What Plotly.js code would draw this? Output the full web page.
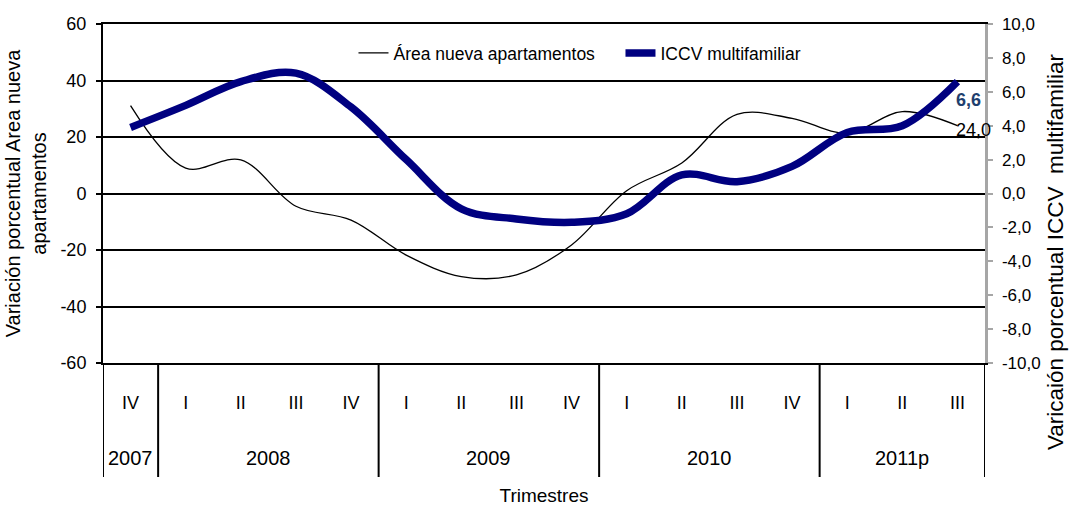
<!DOCTYPE html>
<html>
<head>
<meta charset="utf-8">
<script src="https://cdn.plot.ly/plotly-3.0.1.min.js"></script>
<style>
  html, body { margin: 0; padding: 0; background: #fff; }
  #chart { width: 1069px; height: 509px; }
</style>
</head>
<body>
<div id="chart"></div>
<script>
// Data
const quarters = ['IV', 'I', 'II', 'III', 'IV', 'I', 'II', 'III', 'IV', 'I', 'II', 'III', 'IV', 'I', 'II', 'III'];
const years = ['2007', '2008', '2009', '2010', '2011p'];
const quartersPerYear = [1, 4, 4, 4, 3];
const areaNueva = [31.1, 9.0, 11.9, -4.5, -9.4, -21.8, -29.4, -28.8, -18.2, 1.0, 10.8, 28.0, 26.6, 21.4, 29.0, 24.0];
const iccv = [3.9, 5.2, 6.6, 7.1, 5.1, 2.0, -0.9, -1.5, -1.7, -1.2, 1.1, 0.7, 1.6, 3.6, 4.0, 6.6];
const leftTicks = [-60, -40, -20, 0, 20, 40, 60];
const rightTicks = [-10, -8, -6, -4, -2, 0, 2, 4, 6, 8, 10];

const FONT = 'Liberation Sans, Arial, sans-serif';
const fmt1 = v => v.toFixed(1).replace('.', ',');
const idx = quarters.map((q, i) => i);
const last = idx.length - 1;

const traces = [
    {
        x: idx, y: areaNueva, name: 'Área nueva apartamentos', yaxis: 'y',
        mode: 'lines', line: { color: '#000', width: 1.3, shape: 'spline', smoothing: 1 },
        hoverinfo: 'skip'
    },
    {
        x: idx, y: iccv, name: 'ICCV multifamiliar', yaxis: 'y2',
        mode: 'lines', line: { color: '#000080', width: 7.5, shape: 'spline', smoothing: 1 },
        hoverinfo: 'skip'
    }
];

// year labels and dividers under the quarter labels
const annotations = [];
const shapes = [];
const divBottom = -(477 - 363) / 339;
let start = -0.5;
shapes.push({ type: 'line', xref: 'x', yref: 'paper', x0: start, x1: start, y0: 0, y1: divBottom, line: { color: '#000', width: 2 } });
years.forEach((yr, k) => {
    const end = start + quartersPerYear[k];
    annotations.push({
        xref: 'x', yref: 'paper', x: (start + end) / 2, y: -(458 - 363) / 339,
        text: yr, showarrow: false, yanchor: 'middle', font: { family: FONT, size: 20, color: '#000' }
    });
    shapes.push({ type: 'line', xref: 'x', yref: 'paper', x0: end, x1: end, y0: 0, y1: divBottom, line: { color: '#000', width: 2 } });
    start = end;
});

// data labels on the last point
annotations.push({
    xref: 'x', yref: 'y2', x: last, y: iccv[last], text: '<b>' + fmt1(iccv[last]) + '</b>',
    showarrow: false, xanchor: 'left', yanchor: 'middle', xshift: -3, yshift: -18,
    font: { family: FONT, size: 18, color: '#1f3f6e' }
});
annotations.push({
    xref: 'x', yref: 'y', x: last, y: areaNueva[last], text: fmt1(areaNueva[last]),
    showarrow: false, xanchor: 'left', yanchor: 'middle', xshift: -3, yshift: -4,
    font: { family: FONT, size: 18, color: '#000' }
});

// right axis title, centred on the whole figure height like the original
annotations.push({
    xref: 'paper', yref: 'paper', x: (1055 - 103) / 881, y: (363 - 252) / 339,
    text: 'Varicaión porcentual ICCV \u00a0multifamiliar', textangle: -90,
    showarrow: false, xanchor: 'center', yanchor: 'middle',
    font: { family: FONT, size: 22.5, color: '#000' }
});

const layout = {
    width: 1069, height: 509,
    margin: { l: 103, r: 84, t: 24, b: 146 },
    paper_bgcolor: '#fff', plot_bgcolor: '#fff',
    font: { family: FONT, size: 17, color: '#000' },
    showlegend: true,
    legend: {
        orientation: 'h', x: 0.284, y: (363 - 53) / 339, xanchor: 'left', yanchor: 'middle',
        entrywidth: 222, entrywidthmode: 'pixels',
        bgcolor: 'rgba(0,0,0,0)', font: { family: FONT, size: 17.5, color: '#000' }
    },
    xaxis: {
        range: [-0.5, 15.5], tickvals: idx, ticktext: quarters,
        ticks: '', ticklabelstandoff: 22, tickfont: { family: FONT, size: 18 },
        showgrid: false, zeroline: false,
        showline: true, linecolor: '#000', linewidth: 2, mirror: true,
        title: { text: 'Trimestres', font: { family: FONT, size: 19 }, standoff: 77 }
    },
    yaxis: {
        range: [-60, 60], tickvals: leftTicks, ticktext: leftTicks.map(String),
        showgrid: true, gridcolor: '#000', gridwidth: 2, zeroline: false,
        showline: true, linecolor: '#000', linewidth: 2,
        ticks: 'outside', ticklen: 5, tickcolor: '#000', tickwidth: 2,
        ticklabelstandoff: 6, tickfont: { family: FONT, size: 18 },
        title: { text: 'Variación porcentual Area nueva<br>apartamentos', font: { family: FONT, size: 20 }, standoff: 8 }
    },
    yaxis2: {
        overlaying: 'y', side: 'right',
        range: [-10, 10], tickvals: rightTicks, ticktext: rightTicks.map(fmt1),
        showgrid: false, zeroline: false,
        showline: true, linecolor: '#a6a6a6', linewidth: 2.5,
        ticks: 'outside', ticklen: 5, tickcolor: '#a6a6a6', tickwidth: 2,
        ticklabelstandoff: 6, tickfont: { family: FONT, size: 17 }
    },
    annotations: annotations,
    shapes: shapes
};

Plotly.newPlot('chart', traces, layout, { displayModeBar: false, staticPlot: true });
</script>
</body>
</html>
